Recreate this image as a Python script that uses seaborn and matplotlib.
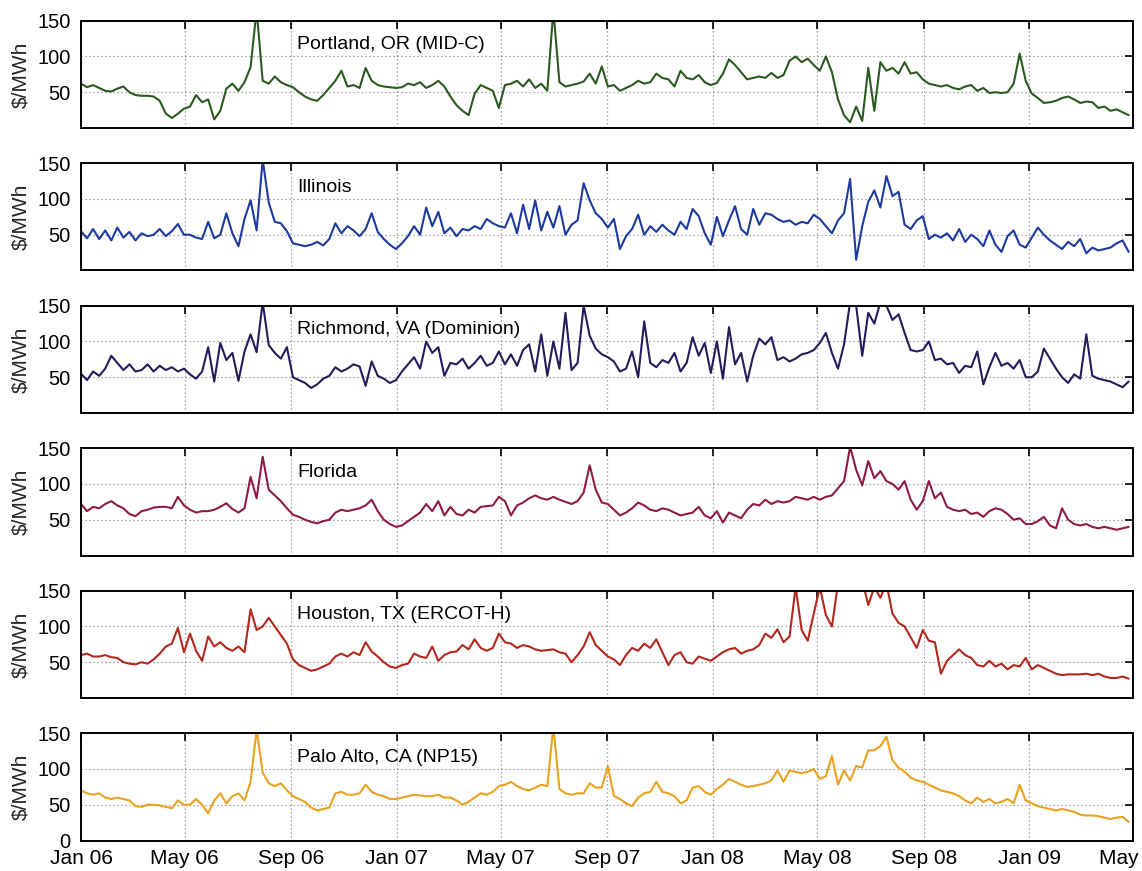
import numpy as np
import pandas as pd
import matplotlib
matplotlib.use("Agg")
import matplotlib.pyplot as plt
import matplotlib.dates as mdates
import seaborn as sns

# Weekly day-ahead on-peak prices ($/MWh), Jan 2006 - Apr 2009
start_date = "2006-01-01"

portland = [
    62, 57, 60, 56, 52, 51, 55, 58, 50, 46, 45, 45, 44, 38, 20, 14, 20, 27,
    30, 46, 36, 40, 12, 24, 55, 62, 52, 64, 85, 165, 66, 62, 72, 64, 60,
    57, 50, 44, 40, 38, 46, 56, 66, 80, 58, 60, 56, 84, 66, 60, 58, 57, 56,
    57, 62, 60, 64, 56, 60, 66, 58, 44, 32, 24, 18, 48, 60, 56, 52, 28,
    60, 62, 66, 58, 68, 56, 62, 52, 165, 64, 58, 60, 62, 65, 76, 62, 86,
    58, 60, 52, 56, 60, 66, 62, 64, 76, 70, 68, 58, 80, 70, 68, 74, 64, 60,
    63, 76, 96, 88, 78, 68, 70, 72, 70, 77, 70, 74, 94, 100, 92, 97, 88,
    80, 100, 78, 40, 18, 8, 30, 10, 84, 24, 92, 80, 84, 76, 92, 76, 78, 68,
    62, 60, 58, 60, 56, 54, 58, 60, 52, 56, 49, 50, 49, 50, 62, 104, 66,
    48, 42, 35, 36, 38, 42, 44, 40, 35, 37, 36, 28, 30, 24, 26, 22, 18,
]

illinois = [
    55, 45, 58, 44, 56, 42, 60, 46, 54, 42, 52, 48, 50, 58, 48, 55, 65, 50,
    50, 46, 44, 68, 45, 50, 80, 52, 34, 72, 98, 56, 155, 95, 68, 66, 55,
    38, 36, 34, 36, 40, 35, 44, 66, 52, 62, 56, 48, 58, 80, 54, 44, 36, 30,
    38, 48, 62, 50, 88, 62, 82, 52, 60, 48, 58, 56, 62, 58, 72, 66, 62,
    60, 80, 52, 92, 58, 98, 56, 82, 60, 90, 50, 64, 70, 122, 98, 80, 72,
    60, 72, 30, 48, 58, 78, 50, 62, 54, 64, 56, 50, 68, 58, 86, 76, 52, 36,
    75, 48, 70, 90, 58, 50, 86, 64, 80, 78, 72, 68, 70, 64, 68, 66, 78,
    72, 62, 52, 70, 80, 128, 15, 62, 96, 112, 88, 132, 104, 110, 64, 58, 70, 76,
    44, 50, 46, 52, 42, 58, 40, 50, 44, 34, 56, 36, 26, 48, 56, 36, 32,
    46, 60, 50, 42, 36, 30, 40, 34, 44, 24, 32, 28, 30, 32, 38, 42, 26,
]

richmond = [
    55, 46, 58, 52, 62, 80, 70, 60, 68, 58, 60, 68, 58, 66, 60, 64, 58, 62,
    54, 48, 58, 92, 44, 98, 74, 84, 45, 86, 110, 85, 155, 95, 84, 76, 92,
    50, 46, 42, 35, 40, 48, 52, 64, 58, 62, 68, 65, 38, 72, 52, 48, 42, 46,
    58, 68, 78, 62, 100, 84, 92, 52, 70, 68, 76, 62, 70, 80, 66, 70, 86,
    68, 82, 66, 88, 96, 58, 110, 52, 100, 62, 140, 60, 70, 150, 108, 90, 82,
    78, 72, 58, 62, 86, 50, 128, 70, 64, 74, 70, 84, 58, 70, 106, 80, 98, 56,
    100, 48, 120, 68, 84, 44, 80, 104, 96, 106, 74, 78, 72, 76, 82, 84, 88,
    98, 112, 84, 62, 96, 155, 150, 80, 140, 125, 155, 150, 130, 138, 112, 88, 86, 88,
    100, 74, 76, 68, 70, 56, 66, 64, 86, 40, 64, 84, 66, 70, 62, 74, 50,
    50, 58, 90, 76, 62, 50, 42, 54, 48, 110, 52, 48, 46, 44, 40, 36, 44,
]

florida = [
    72, 62, 68, 66, 72, 76, 70, 66, 58, 55, 62, 64, 67, 68, 68, 66, 82, 70,
    64, 60, 62, 62, 64, 68, 73, 65, 60, 66, 110, 80, 138, 92, 84, 76, 66,
    57, 54, 50, 47, 45, 48, 50, 60, 64, 62, 64, 66, 70, 78, 62, 50, 44, 40,
    42, 48, 54, 60, 72, 62, 76, 56, 68, 58, 56, 64, 60, 68, 69, 70, 82,
    76, 56, 70, 74, 80, 84, 80, 78, 82, 78, 75, 72, 76, 88, 126, 92, 74,
    72, 64, 56, 60, 66, 74, 70, 64, 62, 66, 64, 60, 56, 58, 60, 68, 56, 52,
    62, 46, 60, 56, 52, 64, 72, 70, 78, 72, 76, 74, 76, 82, 80, 78, 82,
    78, 82, 84, 94, 104, 152, 120, 98, 132, 108, 118, 104, 100, 92, 104, 78, 64, 76,
    104, 80, 88, 68, 64, 62, 64, 58, 60, 54, 62, 66, 64, 58, 50, 52, 44,
    44, 48, 54, 42, 38, 66, 50, 44, 42, 44, 40, 38, 40, 38, 36, 38, 40,
]

houston = [
    60, 62, 58, 58, 60, 57, 56, 50, 48, 47, 50, 48, 54, 62, 72, 76, 98, 64,
    90, 66, 52, 86, 72, 78, 70, 66, 72, 64, 124, 95, 100, 112, 100, 88, 76,
    54, 46, 42, 38, 40, 44, 48, 58, 62, 58, 64, 60, 78, 65, 58, 50, 44, 42,
    46, 48, 62, 58, 56, 72, 52, 60, 64, 65, 74, 68, 82, 70, 66, 70, 90,
    78, 76, 70, 74, 72, 68, 66, 67, 68, 64, 62, 50, 60, 72, 92, 74, 66,
    58, 54, 46, 60, 70, 66, 76, 70, 82, 64, 46, 60, 64, 50, 48, 58, 55, 52,
    58, 64, 68, 70, 62, 66, 68, 74, 90, 84, 96, 78, 86, 155, 95, 80, 118,
    155, 116, 100, 160, 180, 175, 170, 165, 130, 155, 140, 160, 118, 105, 100, 85, 70, 95,
    80, 78, 34, 52, 60, 68, 60, 56, 46, 44, 52, 44, 48, 40, 46, 44, 56,
    40, 46, 42, 38, 34, 32, 33, 33, 33, 34, 32, 34, 30, 28, 28, 30, 27,
]

palo_alto = [
    70, 66, 64, 66, 60, 58, 60, 58, 56, 48, 47, 50, 50, 49, 47, 45, 56, 50,
    50, 58, 50, 38, 56, 66, 52, 62, 66, 56, 82, 155, 95, 80, 76, 80, 70,
    62, 58, 54, 46, 42, 44, 46, 66, 68, 64, 64, 66, 78, 68, 64, 62, 58, 58,
    60, 62, 64, 63, 62, 62, 64, 60, 60, 56, 50, 54, 60, 66, 64, 68, 76,
    78, 82, 76, 72, 70, 74, 78, 76, 160, 72, 66, 64, 66, 66, 80, 74, 74,
    104, 62, 58, 52, 48, 60, 66, 68, 82, 68, 66, 62, 52, 56, 74, 76, 68, 64,
    72, 78, 86, 82, 78, 75, 76, 78, 80, 84, 98, 82, 98, 96, 94, 96, 100,
    86, 90, 118, 78, 98, 84, 104, 102, 126, 126, 132, 145, 112, 102, 96, 88, 84, 82,
    78, 74, 70, 68, 66, 62, 56, 52, 60, 54, 58, 52, 54, 58, 52, 78, 56,
    52, 48, 46, 44, 42, 44, 42, 40, 36, 35, 35, 34, 32, 30, 32, 33, 26,
]

hubs = [
    "Portland, OR (MID-C)",
    "Illinois",
    "Richmond, VA (Dominion)",
    "Florida",
    "Houston, TX (ERCOT-H)",
    "Palo Alto, CA (NP15)",
]
series = [portland, illinois, richmond, florida, houston, palo_alto]
colors = ["#2b5a20", "#1d3a9e", "#241d5c", "#8e1c40", "#b3281c", "#e9a21f"]

sns.set_theme(style="white")
plt.rcParams["font.family"] = ["Liberation Sans", "DejaVu Sans"]

W, H = 1142, 871
fig = plt.figure(figsize=(W / 100, H / 100), dpi=100)

left_px, right_px = 81, 1133
top0_px, panel_h_px, step_px = 20.7, 107.3, 142.5

x_min = pd.Timestamp("2006-01-01")
x_max = pd.Timestamp("2009-05-01")

for k, (name, vals, col) in enumerate(zip(hubs, series, colors)):
    top_px = top0_px + k * step_px
    bottom_frac = (H - (top_px + panel_h_px)) / H
    ax = fig.add_axes([left_px / W, bottom_frac,
                       (right_px - left_px) / W, panel_h_px / H])
    dates = pd.date_range(start_date, periods=len(vals), freq="7D")
    df = pd.DataFrame({"date": dates, "price": vals})
    sns.lineplot(data=df, x="date", y="price", ax=ax, color=col, lw=1.5)

    ax.set_xlim(x_min, x_max)
    ax.set_ylim(0, 150)
    last = k == len(hubs) - 1
    ax.set_yticks([0, 50, 100, 150] if last else [50, 100, 150])
    ax.xaxis.set_major_locator(mdates.MonthLocator(bymonth=[1, 5, 9]))
    ax.xaxis.set_major_formatter(mdates.DateFormatter("%b %y"))
    ax.set_xlabel("")
    ax.set_ylabel("")
    if not last:
        ax.tick_params(axis="x", labelbottom=False)

    ax.grid(True, linestyle=(0, (1, 2.2)), color="#8a8a8a", lw=0.9)
    ax.tick_params(direction="in", length=6, width=1.2, top=True, right=True,
                   colors="black", labelsize=14.5)
    ax.tick_params(axis="y", pad=7.5)
    ax.tick_params(axis="x", pad=6, labelsize=15)
    for sp in ax.spines.values():
        sp.set_linewidth(1.4)
        sp.set_color("black")

    ax.text(0.2053, 0.735, name, transform=ax.transAxes, fontsize=14,
            va="baseline", ha="left", color="black")

    center_y = 1 - (top_px + panel_h_px / 2) / H
    fig.text(21 / W, center_y, "$/MWh", rotation=90, ha="center",
             va="center", fontsize=15)

fig.savefig("out.png", dpi=100)
